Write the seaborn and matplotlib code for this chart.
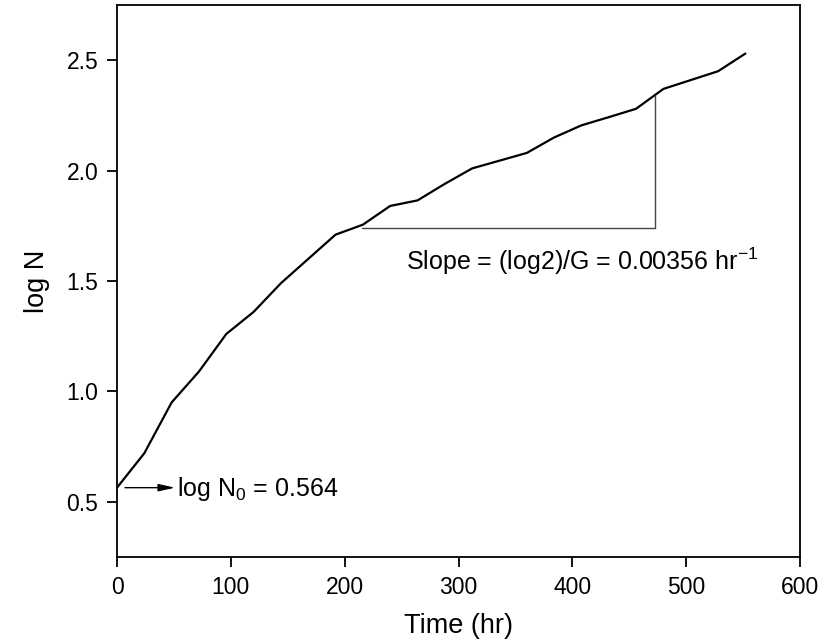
import matplotlib
matplotlib.use("Agg")
import matplotlib.pyplot as plt
import seaborn as sns
import pandas as pd

# Data
time_hr = [0, 24, 48, 72, 96, 120, 144, 168, 192, 216, 240, 264,
           288, 312, 336, 360, 384, 408, 432, 456, 480, 504, 528, 552]
log_n = [0.564, 0.72, 0.95, 1.09, 1.26, 1.36, 1.49, 1.60, 1.71, 1.755, 1.84, 1.865,
         1.94, 2.01, 2.045, 2.08, 2.15, 2.205, 2.242, 2.28, 2.37, 2.41, 2.45, 2.53]

x_ticks = [0, 100, 200, 300, 400, 500, 600]
y_ticks = [0.5, 1.0, 1.5, 2.0, 2.5]

# annotation values
slope_x = [215.6, 472.5]
slope_y = [1.74, 2.338]
n0_value = 0.564

sns.set_theme(style="ticks")
plt.rcParams['font.family'] = ['Liberation Sans', 'DejaVu Sans']
plt.rcParams['mathtext.fontset'] = 'custom'
plt.rcParams['mathtext.rm'] = 'Liberation Sans'
plt.rcParams['mathtext.it'] = 'Liberation Sans'
plt.rcParams['axes.labelcolor'] = 'black'
plt.rcParams['text.color'] = 'black'

df = pd.DataFrame({"Time (hr)": time_hr, "log N": log_n})

fig = plt.figure(figsize=(8.22, 6.44), dpi=100)
ax = fig.add_axes([117/822, 1 - 557/644, (800-117)/822, (557-5)/644])

sns.lineplot(data=df, x="Time (hr)", y="log N", ax=ax, color="black", lw=1.6)

# slope triangle
ax.plot([slope_x[0], slope_x[1]], [slope_y[0], slope_y[0]], color="#444444", lw=1.0)
ax.plot([slope_x[1], slope_x[1]], [slope_y[0], slope_y[1]], color="#444444", lw=1.0)

ax.text(253.7, 1.55, r"Slope = (log2)/G = 0.00356 hr$^\mathregular{-1}$",
        fontsize=18, ha="left", va="baseline", color="black")

# log N0 arrow
ax.annotate("", xy=(51, n0_value), xytext=(7, n0_value),
            arrowprops=dict(arrowstyle="-|>,head_length=0.9,head_width=0.2",
                            color="black", lw=1.0, mutation_scale=11,
                            shrinkA=0, shrinkB=0))
ax.text(53, 0.527, r"log N$_\mathregular{0}$ = " + f"{n0_value}",
        fontsize=18, ha="left", va="baseline", color="black")

ax.set_xlim(0, 600)
ax.set_ylim(0.25, 2.75)
ax.set_xticks(x_ticks)
ax.set_yticks(y_ticks)
ax.set_xticklabels([str(v) for v in x_ticks])
ax.set_yticklabels([f"{v:.1f}" for v in y_ticks])

for s in ax.spines.values():
    s.set_visible(True)
    s.set_linewidth(1.3)
    s.set_color("black")

ax.tick_params(axis="both", direction="out", length=7.5, width=1.3,
               labelsize=16.5, pad=6, colors="black")
ax.tick_params(top=False, right=False)

ax.set_xlabel("Time (hr)", fontsize=19.5, labelpad=10, color="black")
ax.set_ylabel("log N", fontsize=19.5, labelpad=12, color="black")

fig.savefig("out.png", dpi=100)
